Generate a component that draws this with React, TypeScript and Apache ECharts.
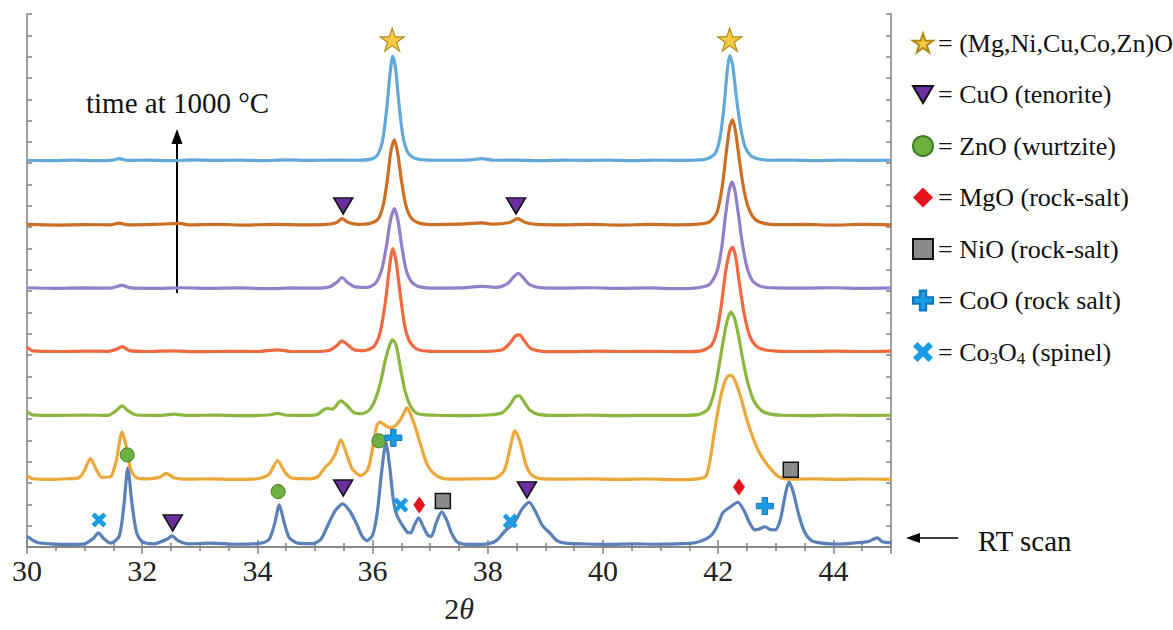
import React, { useEffect, useRef } from "react";
import * as echarts from "echarts";

// ---------- DATA ----------
// x-axis (2θ) range and tick settings
const xMin = 30;
const xMax = 45;
const xTickStep = 2;
const yMin = 0;
const yMax = 25;

// Stacked XRD scans (bottom = RT scan, upward = longer time at 1000 °C)
const traceNames = ["RT scan", "scan 1", "scan 2", "scan 3", "scan 4", "scan 5", "scan 6"];
const traceOffsets = [0.1, 3.15, 6.15, 9.15, 12.12, 15.1, 18.12];
const traceColors = ["#5a80b8", "#eca73a", "#8db640", "#f06a40", "#9480c8", "#cc6e24", "#62a9da"];

// intensities above each scan's baseline: [2θ, intensity]
const scanRT = [
  [30, 0.4], [30.08, 0.25], [30.2, 0.1], [30.4, 0.05], [30.7, 0.02], [31.0, 0.05], [31.15, 0.3], [31.24, 0.56],
  [31.33, 0.3], [31.45, 0.08], [31.6, 0.4], [31.68, 1.8], [31.75, 3.6], [31.82, 2.0], [31.9, 0.6], [32.0, 0.15],
  [32.2, 0.05], [32.42, 0.25], [32.52, 0.42], [32.62, 0.2], [32.8, 0.05], [33.2, 0.08], [33.6, 0.03], [34.0, 0.06],
  [34.2, 0.25], [34.3, 1.0], [34.38, 1.88], [34.46, 1.1], [34.55, 0.35], [34.7, 0.08], [34.95, 0.06], [35.1, 0.25],
  [35.22, 0.9], [35.35, 1.6], [35.48, 1.92], [35.6, 1.6], [35.72, 1.0], [35.82, 0.4], [35.9, 0.2], [36.0, 0.45],
  [36.08, 1.5], [36.16, 3.5], [36.23, 4.8], [36.3, 3.6], [36.36, 2.1], [36.42, 1.4], [36.5, 1.0], [36.6, 0.6],
  [36.66, 0.56], [36.73, 0.95], [36.8, 1.27], [36.88, 0.85], [36.96, 0.45], [37.02, 0.4], [37.1, 1.0], [37.2, 1.55],
  [37.28, 1.2], [37.38, 0.5], [37.48, 0.12], [37.7, 0.02], [38.0, 0.05], [38.15, 0.2], [38.3, 0.65], [38.45, 1.0],
  [38.6, 1.7], [38.72, 2.0], [38.82, 1.6], [38.95, 0.9], [39.08, 0.55], [39.2, 0.2], [39.35, 0.08], [39.7, 0.04],
  [40.1, 0.02], [40.5, 0.05], [40.9, 0.03], [41.3, 0.05], [41.6, 0.1], [41.85, 0.38], [41.97, 0.8], [42.08, 1.5],
  [42.22, 1.8], [42.34, 2.0], [42.45, 1.6], [42.55, 1.0], [42.64, 0.7], [42.72, 0.75], [42.81, 0.85], [42.9, 0.72],
  [42.99, 0.7], [43.08, 1.2], [43.16, 2.3], [43.23, 2.96], [43.3, 2.5], [43.4, 1.4], [43.5, 0.6], [43.62, 0.2],
  [43.8, 0.08], [44.1, 0.04], [44.4, 0.1], [44.6, 0.15], [44.76, 0.33], [44.85, 0.15], [45, 0.1],
];

const scan1 = [
  [30, 0.2], [30.1, 0.05], [30.4, 0.02], [30.7, 0.05], [30.9, 0.1], [31.0, 0.45], [31.1, 1.0], [31.2, 0.5],
  [31.3, 0.12], [31.45, 0.15], [31.55, 0.9], [31.65, 2.25], [31.72, 1.6], [31.8, 0.5], [31.9, 0.1], [32.1, 0.05],
  [32.3, 0.12], [32.42, 0.3], [32.55, 0.1], [32.8, 0.03], [33.2, 0.05], [33.6, 0.02], [34.0, 0.05], [34.2, 0.25],
  [34.35, 0.9], [34.48, 0.35], [34.6, 0.08], [34.9, 0.05], [35.05, 0.15], [35.18, 0.6], [35.26, 0.8], [35.35, 1.2],
  [35.45, 1.88], [35.55, 1.2], [35.65, 0.5], [35.8, 0.2], [35.92, 0.5], [36.0, 1.5], [36.07, 2.5], [36.13, 2.72],
  [36.22, 2.55], [36.3, 2.44], [36.4, 2.55], [36.5, 2.9], [36.6, 3.38], [36.67, 3.0], [36.75, 2.4], [36.85, 1.5],
  [36.95, 0.7], [37.05, 0.33], [37.2, 0.08], [37.4, 0.03], [37.8, 0.05], [38.1, 0.06], [38.28, 0.4], [38.38, 1.4],
  [38.47, 2.3], [38.56, 1.8], [38.65, 0.8], [38.75, 0.25], [38.9, 0.06], [39.3, 0.03], [39.8, 0.05], [40.3, 0.02],
  [40.8, 0.04], [41.3, 0.01], [41.6, 0.03], [41.78, 0.15], [41.85, 0.8], [41.92, 2.0], [42.0, 3.3], [42.08, 4.3],
  [42.16, 4.85], [42.22, 4.9], [42.3, 4.6], [42.4, 3.8], [42.5, 2.8], [42.6, 2.0], [42.7, 1.35], [42.8, 0.9],
  [42.9, 0.55], [43.0, 0.25], [43.1, 0.08], [43.3, 0.03], [43.7, 0.05], [44.1, 0.02], [44.5, 0.04], [45, 0.02],
];

const scan2 = [
  [30, 0.2], [30.1, 0.05], [30.5, 0.02], [31, 0.04], [31.4, 0.02], [31.55, 0.25], [31.65, 0.47], [31.75, 0.25],
  [31.9, 0.04], [32.3, 0.02], [32.55, 0.08], [32.8, 0.02], [33.3, 0.04], [33.8, 0.01], [34.2, 0.04], [34.35, 0.12],
  [34.5, 0.03], [34.9, 0.02], [35.05, 0.08], [35.2, 0.35], [35.3, 0.32], [35.45, 0.7], [35.55, 0.5], [35.68, 0.15],
  [35.82, 0.1], [35.95, 0.3], [36.05, 0.8], [36.14, 1.6], [36.22, 2.6], [36.3, 3.35], [36.35, 3.57], [36.41, 3.3],
  [36.48, 2.3], [36.56, 1.2], [36.65, 0.5], [36.75, 0.15], [36.88, 0.06], [37.1, 0.03], [37.6, 0.01], [38.0, 0.04],
  [38.25, 0.15], [38.38, 0.5], [38.48, 0.9], [38.55, 0.94], [38.63, 0.65], [38.74, 0.25], [38.9, 0.06], [39.3, 0.02],
  [39.8, 0.04], [40.3, 0.01], [40.8, 0.03], [41.3, 0.02], [41.65, 0.06], [41.82, 0.3], [41.92, 1.0], [42.0, 2.1],
  [42.08, 3.4], [42.15, 4.4], [42.22, 4.88], [42.28, 4.6], [42.35, 3.8], [42.43, 2.6], [42.52, 1.5], [42.62, 0.7],
  [42.75, 0.25], [42.9, 0.08], [43.1, 0.03], [43.5, 0.01], [44, 0.04], [44.5, 0.02], [45, 0.03],
];

const scan3 = [
  [30, 0.23], [30.1, 0.05], [30.6, 0.02], [31, 0.04], [31.4, 0.03], [31.55, 0.12], [31.65, 0.25], [31.78, 0.06],
  [32.1, 0.02], [32.5, 0.05], [33, 0.01], [33.5, 0.03], [34, 0.02], [34.35, 0.1], [34.6, 0.02], [35.0, 0.02],
  [35.25, 0.08], [35.38, 0.3], [35.47, 0.52], [35.56, 0.35], [35.68, 0.1], [35.85, 0.06], [36.02, 0.25], [36.13, 0.9],
  [36.22, 2.3], [36.29, 3.9], [36.35, 4.85], [36.41, 4.2], [36.48, 2.7], [36.56, 1.2], [36.65, 0.45], [36.78, 0.12],
  [37.0, 0.03], [37.5, 0.02], [38.0, 0.03], [38.25, 0.1], [38.38, 0.4], [38.48, 0.75], [38.55, 0.8], [38.64, 0.5],
  [38.75, 0.15], [38.95, 0.03], [39.4, 0.01], [39.9, 0.04], [40.4, 0.02], [40.9, 0.03], [41.4, 0.01], [41.7, 0.05],
  [41.88, 0.3], [41.98, 1.0], [42.06, 2.3], [42.13, 3.8], [42.2, 4.7], [42.25, 4.9], [42.3, 4.5], [42.37, 3.2],
  [42.45, 1.8], [42.54, 0.8], [42.65, 0.3], [42.8, 0.1], [43.0, 0.04], [43.5, 0.02], [44, 0.04], [44.5, 0.02], [45, 0.04],
];

const scan4 = [
  [30, 0.04], [30.5, 0.01], [31, 0.03], [31.45, 0.02], [31.65, 0.15], [31.8, 0.03], [32.2, 0.01], [32.7, 0.04],
  [33.2, 0.01], [33.7, 0.03], [34.2, 0], [34.6, 0.03], [35.0, 0.02], [35.25, 0.08], [35.38, 0.3], [35.47, 0.52],
  [35.56, 0.3], [35.7, 0.08], [35.9, 0.06], [36.05, 0.25], [36.16, 0.9], [36.24, 2.0], [36.31, 3.2], [36.38, 3.75],
  [36.44, 3.2], [36.5, 2.1], [36.58, 0.9], [36.68, 0.3], [36.82, 0.08], [37.1, 0.02], [37.5, 0.03], [37.9, 0.1],
  [38.15, 0.06], [38.35, 0.25], [38.45, 0.55], [38.53, 0.72], [38.62, 0.5], [38.72, 0.2], [38.9, 0.05], [39.3, 0.02],
  [39.8, 0.04], [40.3, 0.01], [40.8, 0.03], [41.3, 0], [41.65, 0.04], [41.85, 0.2], [41.98, 0.8], [42.06, 1.9],
  [42.13, 3.5], [42.19, 4.6], [42.24, 5.0], [42.29, 4.6], [42.35, 3.5], [42.42, 2.1], [42.5, 1.0], [42.6, 0.35],
  [42.75, 0.1], [43.0, 0.03], [43.5, 0.02], [44, 0.04], [44.5, 0.01], [45, 0.03],
];

const scan5 = [
  [30, 0.03], [30.5, 0], [31, 0.02], [31.45, 0.01], [31.6, 0.09], [31.75, 0.01], [32.2, 0.03], [32.66, 0.08],
  [32.8, 0.01], [33.3, 0.03], [33.8, 0], [34.3, 0.03], [34.8, 0.01], [35.2, 0.03], [35.38, 0.12], [35.47, 0.3],
  [35.58, 0.12], [35.75, 0.03], [35.95, 0.07], [36.1, 0.3], [36.19, 1.0], [36.26, 2.2], [36.32, 3.5], [36.38, 4.0],
  [36.44, 3.3], [36.5, 2.1], [36.58, 0.9], [36.68, 0.3], [36.82, 0.08], [37.1, 0.02], [37.5, 0.04], [37.9, 0.1],
  [38.1, 0.04], [38.38, 0.12], [38.52, 0.3], [38.65, 0.12], [38.85, 0.03], [39.3, 0.01], [39.8, 0.03], [40.3, 0],
  [40.8, 0.03], [41.3, 0.01], [41.65, 0.04], [41.85, 0.15], [41.98, 0.6], [42.07, 1.8], [42.14, 3.4], [42.2, 4.6],
  [42.25, 4.93], [42.3, 4.4], [42.37, 3.0], [42.45, 1.6], [42.54, 0.7], [42.65, 0.25], [42.8, 0.08], [43.0, 0.02],
  [43.5, 0.03], [44, 0], [44.5, 0.03], [45, 0.01],
];

const scan6 = [
  [30, 0.02], [30.4, 0], [30.8, 0.03], [31.2, 0], [31.5, 0.03], [31.6, 0.1], [31.75, 0.01], [32.1, 0.03],
  [32.5, 0], [32.9, 0.04], [33.3, 0.01], [33.7, 0.03], [34.1, 0], [34.5, 0.04], [34.9, 0.01], [35.3, 0.03],
  [35.7, 0.02], [35.95, 0.06], [36.08, 0.25], [36.17, 0.9], [36.24, 2.3], [36.3, 4.0], [36.35, 4.9], [36.4, 4.3],
  [36.46, 2.6], [36.53, 1.1], [36.62, 0.35], [36.75, 0.1], [36.95, 0.03], [37.3, 0.02], [37.7, 0.04], [37.9, 0.1],
  [38.1, 0.02], [38.5, 0.03], [38.9, 0], [39.3, 0.03], [39.7, 0.01], [40.1, 0.03], [40.5, 0], [40.9, 0.03],
  [41.3, 0.01], [41.6, 0.03], [41.8, 0.08], [41.95, 0.35], [42.04, 1.2], [42.11, 2.8], [42.16, 4.3], [42.2, 4.93],
  [42.25, 4.5], [42.31, 3.1], [42.38, 1.7], [42.46, 0.7], [42.56, 0.25], [42.7, 0.08], [42.9, 0.02], [43.3, 0.03],
  [43.7, 0], [44.1, 0.03], [44.5, 0.01], [45, 0.02],
];

const scans = [scanRT, scan1, scan2, scan3, scan4, scan5, scan6];

// Phase markers: [2θ, y position on the stacked axis]
const phaseNames = [
  "(Mg,Ni,Cu,Co,Zn)O",
  "CuO (tenorite)",
  "ZnO (wurtzite)",
  "MgO (rock-salt)",
  "NiO (rock-salt)",
  "CoO (rock salt)",
  "Co3O4 (spinel)",
];
const rocksaltHEO = [[36.34, 23.8], [42.2, 23.8]];
const cuoTenorite = [[35.49, 16.0], [38.49, 16.0], [32.53, 1.13], [35.49, 2.77], [38.68, 2.68]];
const znoWurtzite = [[31.74, 4.32], [34.36, 2.6], [36.11, 4.98]];
const mgoRocksalt = [[36.81, 1.97], [42.36, 2.82]];
const nioRocksalt = [[37.22, 2.16], [43.26, 3.62]];
const cooRocksalt = [[36.36, 5.12], [42.81, 1.92]];
const co3o4Spinel = [[31.25, 1.27], [36.49, 1.97], [38.39, 1.22]];
const phasePoints = [rocksaltHEO, cuoTenorite, znoWurtzite, mgoRocksalt, nioRocksalt, cooRocksalt, co3o4Spinel];

// ---------- STYLE ----------
const SERIF = "'Liberation Serif', 'Times New Roman', serif";
const phaseSymbols = [
  "path://M50,0 L61.8,35.1 L98.9,35.1 L68.9,56.8 L80.2,91.9 L50,70.2 L19.8,91.9 L31.1,56.8 L1.1,35.1 L38.2,35.1 Z",
  "path://M0,0 L100,0 L50,86 Z",
  "circle",
  "diamond",
  "rect",
  "path://M34,0 L66,0 L66,34 L100,34 L100,66 L66,66 L66,100 L34,100 L34,66 L0,66 L0,34 L34,34 Z",
  "path://M22,0 L50,28 L78,0 L100,22 L72,50 L100,78 L78,100 L50,72 L22,100 L0,78 L28,50 L0,22 Z",
];
const phaseSizes = [[24, 23], [19, 16], [14, 14], [12, 17], [15, 15], [17, 17], [15, 15]];
const phaseFill = ["#f6c945", "#6b2fa0", "#6fb043", "#e8141c", "#8a8a8a", "#1a9be6", "#1a9be6"];
const phaseBorder = ["#b08a18", "#111111", "#3f7a25", "#e8141c", "#111111", "#1476b8", "#1a9be6"];
const phaseBorderW = [1.2, 1.5, 1, 0, 1.5, 1, 0];

export default function App() {
  const ref = useRef<HTMLDivElement>(null);

  useEffect(() => {
    if (!ref.current) return;
    const chart = echarts.init(ref.current, undefined, { renderer: "svg" });

    const axisLineStyle = { color: "#808080", width: 1.5 };

    const lineSeries = scans.map((scan, i) => ({
      name: traceNames[i],
      type: "line",
      xAxisIndex: 0,
      yAxisIndex: 0,
      data: scan.map(([x, h]) => [x, h + traceOffsets[i]]),
      showSymbol: false,
      smooth: 0.25,
      lineStyle: { color: traceColors[i], width: 3.2 },
      itemStyle: { color: traceColors[i] },
      z: 2,
    }));

    const markerSeries = phasePoints.map((pts, i) => ({
      name: phaseNames[i],
      type: "scatter",
      xAxisIndex: 0,
      yAxisIndex: 0,
      data: pts,
      symbol: phaseSymbols[i],
      symbolSize: phaseSizes[i],
      itemStyle: {
        color: phaseFill[i],
        borderColor: phaseBorder[i],
        borderWidth: phaseBorderW[i],
        opacity: 1,
      },
      z: 5,
    }));

    const option: any = {
      animation: false,
      backgroundColor: "#ffffff",
      grid: {
        left: 27,
        right: 282,
        top: 14,
        bottom: 83,
        containLabel: false,
        outerBoundsMode: "none",
      },
      xAxis: [
        {
          type: "value",
          min: xMin,
          max: xMax,
          interval: xTickStep,
          position: "bottom",
          name: "2{i|θ}",
          nameLocation: "middle",
          nameGap: 46,
          nameTextStyle: {
            fontFamily: SERIF,
            fontSize: 30,
            color: "#222",
            rich: { i: { fontFamily: SERIF, fontSize: 30, fontStyle: "italic", color: "#222" } },
          },
          axisLine: { show: true, lineStyle: axisLineStyle },
          axisTick: { show: true, inside: true, length: 7, lineStyle: axisLineStyle },
          minorTick: { show: true, splitNumber: 4, length: 4, lineStyle: axisLineStyle },
          splitLine: { show: false },
          axisLabel: {
            fontFamily: SERIF,
            fontSize: 30,
            color: "#222",
            margin: 8,
            showMaxLabel: false,
          },
        },
        {
          type: "value",
          min: xMin,
          max: xMax,
          interval: xTickStep,
          position: "top",
          axisLine: { show: true, lineStyle: axisLineStyle },
          axisTick: { show: true, inside: true, length: 7, lineStyle: axisLineStyle },
          minorTick: { show: true, splitNumber: 4, length: 4, lineStyle: axisLineStyle },
          splitLine: { show: false },
          axisLabel: { show: false },
        },
      ],
      yAxis: [
        {
          type: "value",
          min: yMin,
          max: yMax,
          interval: 1,
          position: "left",
          axisLine: { show: true, lineStyle: axisLineStyle },
          axisTick: { show: true, inside: true, length: 5, lineStyle: axisLineStyle },
          splitLine: { show: false },
          axisLabel: { show: false },
        },
        {
          type: "value",
          min: yMin,
          max: yMax,
          interval: 1,
          position: "right",
          axisLine: { show: true, lineStyle: axisLineStyle },
          axisTick: { show: true, inside: true, length: 5, lineStyle: axisLineStyle },
          splitLine: { show: false },
          axisLabel: { show: false },
        },
      ],
      legend: {
        show: true,
        orient: "vertical",
        left: 907,
        top: 23,
        itemWidth: 20,
        itemHeight: 20,
        itemGap: 21.5,
        data: phaseNames,
        selectedMode: false,
        formatter: (name: string) =>
          name === "Co3O4 (spinel)" ? "= Co{s|3}O{s|4} (spinel)" : "= " + name,
        textStyle: {
          fontFamily: SERIF,
          fontSize: 26,
          color: "#111",
          lineHeight: 30,
          rich: {
            s: { fontFamily: SERIF, fontSize: 17, color: "#111", verticalAlign: "bottom", lineHeight: 20 },
          },
        },
      },
      graphic: [
        {
          type: "text",
          x: 86,
          y: 103,
          style: {
            text: "time at 1000 °C",
            fontFamily: SERIF,
            fontSize: 29,
            fill: "#111",
            textVerticalAlign: "middle",
            verticalAlign: "middle",
          },
        },
        {
          type: "line",
          shape: { x1: 177, y1: 293, x2: 177, y2: 140 },
          style: { stroke: "#000", lineWidth: 2 },
        },
        {
          type: "polygon",
          shape: { points: [[177, 129], [171.5, 144], [182.5, 144]] },
          style: { fill: "#000" },
        },
        {
          type: "text",
          x: 978,
          y: 541,
          style: {
            text: "RT scan",
            fontFamily: SERIF,
            fontSize: 29,
            fill: "#111",
            textVerticalAlign: "middle",
            verticalAlign: "middle",
          },
        },
        {
          type: "line",
          shape: { x1: 958, y1: 538, x2: 916, y2: 538 },
          style: { stroke: "#000", lineWidth: 1.5 },
        },
        {
          type: "polygon",
          shape: { points: [[906, 538], [920, 533], [920, 543]] },
          style: { fill: "#000" },
        },
      ],
      series: [...lineSeries, ...markerSeries],
    };

    chart.setOption(option);
    return () => chart.dispose();
  }, []);

  return (
    <div
      ref={ref}
      style={{ position: "fixed", left: 0, top: 0, width: 1173, height: 630, background: "#fff" }}
    />
  );
}
